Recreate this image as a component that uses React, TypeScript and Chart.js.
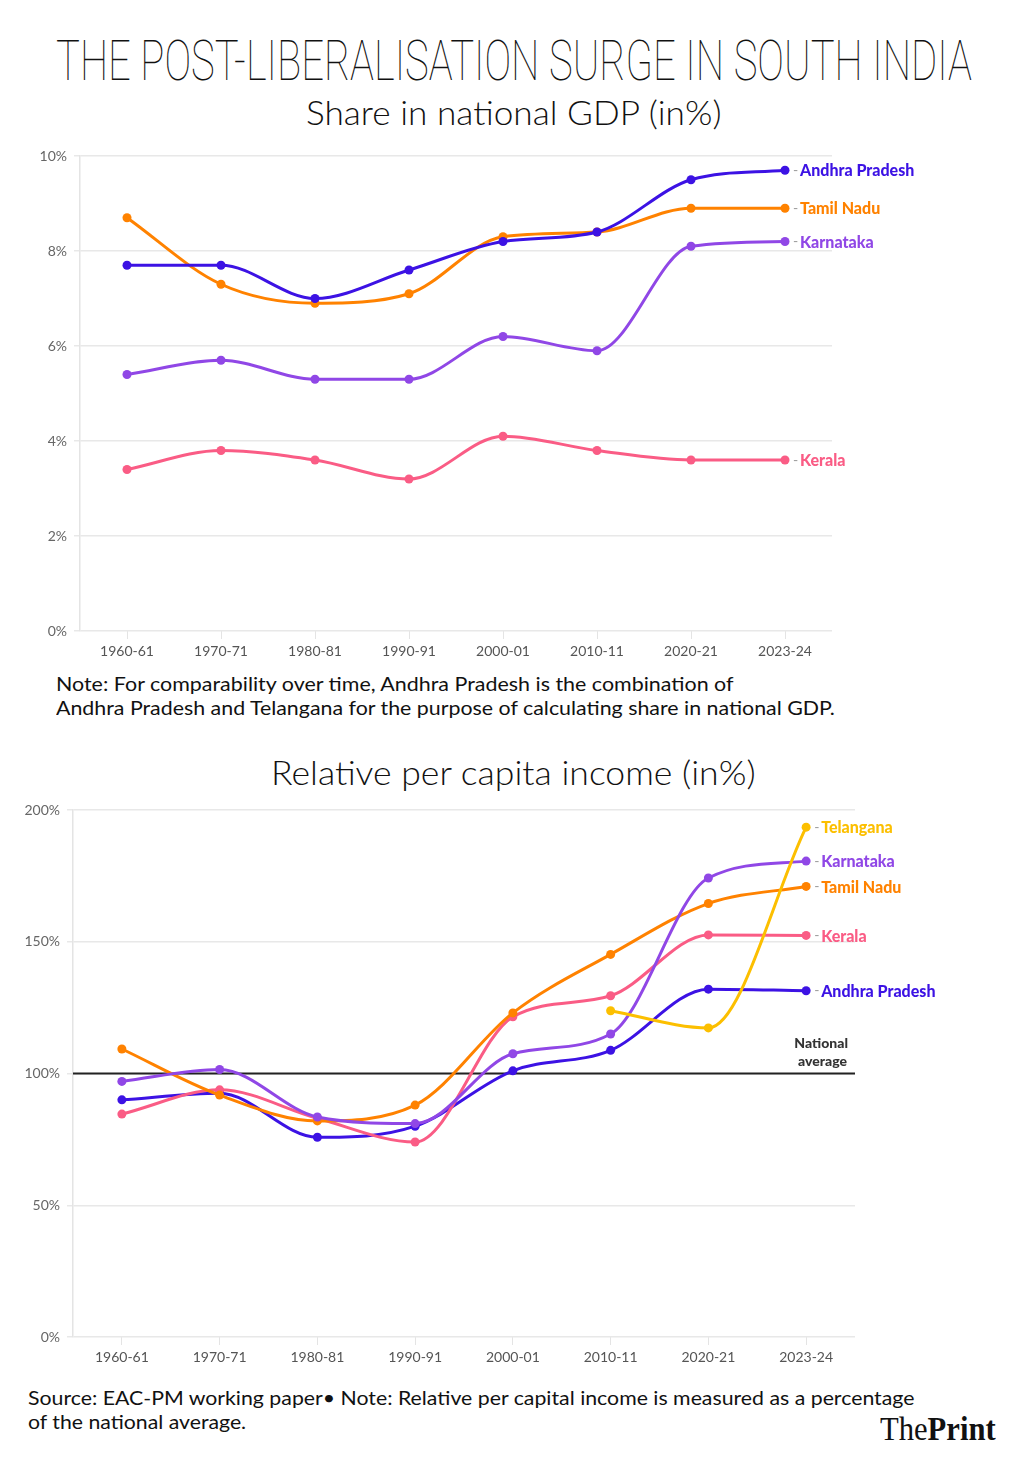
import React, { useEffect, useLayoutEffect, useRef } from "react";
import { Chart, registerables } from "chart.js";

Chart.register(...registerables);

// ---------- DATA ----------
const categories = ["1960-61", "1970-71", "1980-81", "1990-91", "2000-01", "2010-11", "2020-21", "2023-24"];

const gdpAndhra = [7.7, 7.7, 7.0, 7.6, 8.2, 8.4, 9.5, 9.7];
const gdpTamil = [8.7, 7.3, 6.9, 7.1, 8.3, 8.4, 8.9, 8.9];
const gdpKarnataka = [5.4, 5.7, 5.3, 5.3, 6.2, 5.9, 8.1, 8.2];
const gdpKerala = [3.4, 3.8, 3.6, 3.2, 4.1, 3.8, 3.6, 3.6];

const pciTelangana = [null, null, null, null, null, 123.8, 117.3, 193.5];
const pciKarnataka = [97, 101.5, 83.5, 81, 107.5, 115, 174.2, 180.6];
const pciTamil = [109.3, 91.8, 82, 88, 123, 145.2, 164.5, 171];
const pciKerala = [84.6, 93.8, 83, 74, 121.5, 129.5, 152.6, 152.4];
const pciAndhra = [90, 92.5, 75.8, 80, 101, 108.8, 132, 131.4];

const gdpTicks = [0, 2, 4, 6, 8, 10];
const pciTicks = [0, 50, 100, 150, 200];
const nationalAverage = 100;

const COLORS = {
  andhra: "#3c12e4",
  tamil: "#ff8200",
  karnataka: "#9047e6",
  kerala: "#fa5c85",
  telangana: "#fcbf00",
};

// ---------- helpers ----------
function FitText(props: {
  text: React.ReactNode;
  left: number;
  top: number;
  width: number;
  font: string;
  size: number;
  weight?: number;
  color?: string;
}) {
  const ref = useRef<HTMLSpanElement>(null);
  useLayoutEffect(() => {
    const el = ref.current;
    if (!el) return;
    const w = el.offsetWidth;
    if (w > 0) el.style.transform = `scaleX(${props.width / w})`;
  });
  return (
    <div
      style={{
        position: "absolute",
        left: props.left,
        top: props.top,
        whiteSpace: "nowrap",
        lineHeight: 1,
      }}
    >
      <span
        ref={ref}
        style={{
          display: "inline-block",
          transformOrigin: "left top",
          fontFamily: props.font,
          fontSize: props.size,
          fontWeight: props.weight ?? 400,
          color: props.color ?? "#111",
          lineHeight: 1,
        }}
      >
        {props.text}
      </span>
    </div>
  );
}

type DS = { label: string; data: (number | null)[]; color: string };

function LineChart(props: {
  top: number;
  height: number;
  yAxisWidth: number;
  padTop: number;
  padRight: number;
  datasets: DS[];
  ticks: number[];
  max: number;
  step: number;
  refLine?: number;
}) {
  const ref = useRef<HTMLCanvasElement>(null);
  useEffect(() => {
    const canvas = ref.current!;
    const labelFont = "900 16px Lato";
    const endLabels = {
      id: "endLabels",
      afterDatasetsDraw(chart: any) {
        const ctx = chart.ctx;
        ctx.save();
        ctx.textBaseline = "middle";
        chart.data.datasets.forEach((ds: any, i: number) => {
          const meta = chart.getDatasetMeta(i);
          let idx = ds.data.length - 1;
          while (idx >= 0 && ds.data[idx] == null) idx--;
          const pt = meta.data[idx];
          if (!pt) return;
          ctx.font = "14px Lato";
          ctx.fillStyle = "#9a9a9a";
          ctx.textAlign = "left";
          ctx.fillText("-", pt.x + 8, pt.y);
          ctx.font = labelFont;
          ctx.fillStyle = ds.borderColor;
          ctx.fillText(ds.label, pt.x + 15, pt.y + 1);
        });
        ctx.restore();
      },
    };
    const refLinePlugin = {
      id: "refLine",
      beforeDatasetsDraw(chart: any) {
        if (props.refLine == null) return;
        const ctx = chart.ctx;
        const y = chart.scales.y.getPixelForValue(props.refLine);
        const { left, right } = chart.chartArea;
        ctx.save();
        ctx.strokeStyle = "#222";
        ctx.lineWidth = 2;
        ctx.beginPath();
        ctx.moveTo(left, y);
        ctx.lineTo(right, y);
        ctx.stroke();
        ctx.font = "900 14px Lato";
        ctx.fillStyle = "#333";
        ctx.textAlign = "right";
        ctx.textBaseline = "alphabetic";
        ctx.fillText("National", right - 7, y - 26);
        ctx.fillText("average", right - 8, y - 8);
        ctx.restore();
      },
    };
    const chart = new Chart(canvas, {
      type: "line",
      data: {
        labels: categories,
        datasets: props.datasets.map((d) => ({
          label: d.label,
          data: d.data,
          borderColor: d.color,
          backgroundColor: d.color,
          pointBackgroundColor: d.color,
          pointBorderColor: d.color,
          borderWidth: 3,
          pointRadius: 4.5,
          pointBorderWidth: 0,
          cubicInterpolationMode: "monotone",
          spanGaps: false,
          fill: false,
        })),
      },
      options: {
        responsive: false,
        animation: false,
        devicePixelRatio: 1,
        layout: { padding: { left: 0, right: props.padRight, top: props.padTop, bottom: 0 } },
        plugins: { legend: { display: false }, tooltip: { enabled: false } },
        scales: {
          x: {
            type: "category",
            offset: true,
            grid: { display: true, drawOnChartArea: false, drawTicks: true, tickLength: 8, color: "#e4e4e4" },
            border: { display: false },
            ticks: { color: "#555", font: { family: "Lato", size: 14 }, padding: 4, maxRotation: 0, autoSkip: false },
            afterFit: (s: any) => {
              s.height = 40;
            },
          },
          y: {
            min: 0,
            max: props.max,
            afterBuildTicks: (s: any) => {
              s.ticks = props.ticks.map((v) => ({ value: v }));
            },
            ticks: {
              color: "#666",
              font: { family: "Lato", size: 14 },
              padding: 7,
              callback: (v: any) => v + "%",
            },
            grid: { color: "#e8e8e8", lineWidth: 1.5, tickLength: 6 },
            border: { color: "#e4e4e4", width: 1.5 },
            afterFit: (s: any) => {
              s.width = props.yAxisWidth;
            },
          },
        },
      } as any,
      plugins: [refLinePlugin, endLabels],
    });
    return () => chart.destroy();
  }, []);
  return (
    <canvas
      ref={ref}
      width={1022}
      height={props.height}
      style={{ position: "absolute", left: 0, top: props.top, width: 1022, height: props.height }}
    />
  );
}

export default function App() {
  useLayoutEffect(() => {
    document.body.style.margin = "0";
    document.body.style.background = "#fff";
  }, []);
  const sans = "Lato, 'Noto Sans', sans-serif";
  return (
    <div style={{ position: "relative", width: 1022, height: 1461, background: "#fff", overflow: "hidden" }}>
      <FitText
        text="THE POST-LIBERALISATION SURGE IN SOUTH INDIA"
        left={56}
        top={33}
        width={916}
        font="Roboto, sans-serif"
        size={56}
        weight={100}
        color="#111"
      />
      <FitText text="Share in national GDP (in%)" left={306} top={96} width={415} font={sans} size={33} weight={300} color="#111" />
      <LineChart
        top={140}
        height={531}
        yAxisWidth={80}
        padTop={16}
        padRight={190}
        max={10}
        step={2}
        ticks={gdpTicks}
        datasets={[
          { label: "Andhra Pradesh", data: gdpAndhra, color: COLORS.andhra },
          { label: "Tamil Nadu", data: gdpTamil, color: COLORS.tamil },
          { label: "Karnataka", data: gdpKarnataka, color: COLORS.karnataka },
          { label: "Kerala", data: gdpKerala, color: COLORS.kerala },
        ]}
      />
      <FitText
        text="Note: For comparability over time, Andhra Pradesh is the combination of"
        left={56}
        top={674}
        width={678}
        font={sans}
        size={19}
        color="#111"
      />
      <FitText
        text="Andhra Pradesh and Telangana for the purpose of calculating share in national GDP."
        left={56}
        top={698}
        width={779}
        font={sans}
        size={19}
        color="#111"
      />
      <FitText
        text="Relative per capita income (in%)"
        left={271}
        top={756}
        width={485}
        font={sans}
        size={33}
        weight={300}
        color="#111"
      />
      <LineChart
        top={790}
        height={587}
        yAxisWidth={73}
        padTop={20}
        padRight={167}
        max={200}
        step={50}
        ticks={pciTicks}
        refLine={nationalAverage}
        datasets={[
          { label: "Telangana", data: pciTelangana, color: COLORS.telangana },
          { label: "Karnataka", data: pciKarnataka, color: COLORS.karnataka },
          { label: "Tamil Nadu", data: pciTamil, color: COLORS.tamil },
          { label: "Kerala", data: pciKerala, color: COLORS.kerala },
          { label: "Andhra Pradesh", data: pciAndhra, color: COLORS.andhra },
        ]}
      />
      <FitText
        text="Source: EAC-PM working paper• Note: Relative per capital income is measured as a percentage"
        left={28}
        top={1388}
        width={886}
        font={sans}
        size={19}
        color="#111"
      />
      <FitText text="of the national average." left={28} top={1412} width={218} font={sans} size={19} color="#111" />
      <FitText
        text={
          <>
            <span style={{ fontWeight: 400 }}>The</span>
            <span style={{ fontWeight: 700 }}>Print</span>
          </>
        }
        left={880}
        top={1413}
        width={116}
        font="'Liberation Serif', serif"
        size={33}
        color="#111"
      />
    </div>
  );
}
